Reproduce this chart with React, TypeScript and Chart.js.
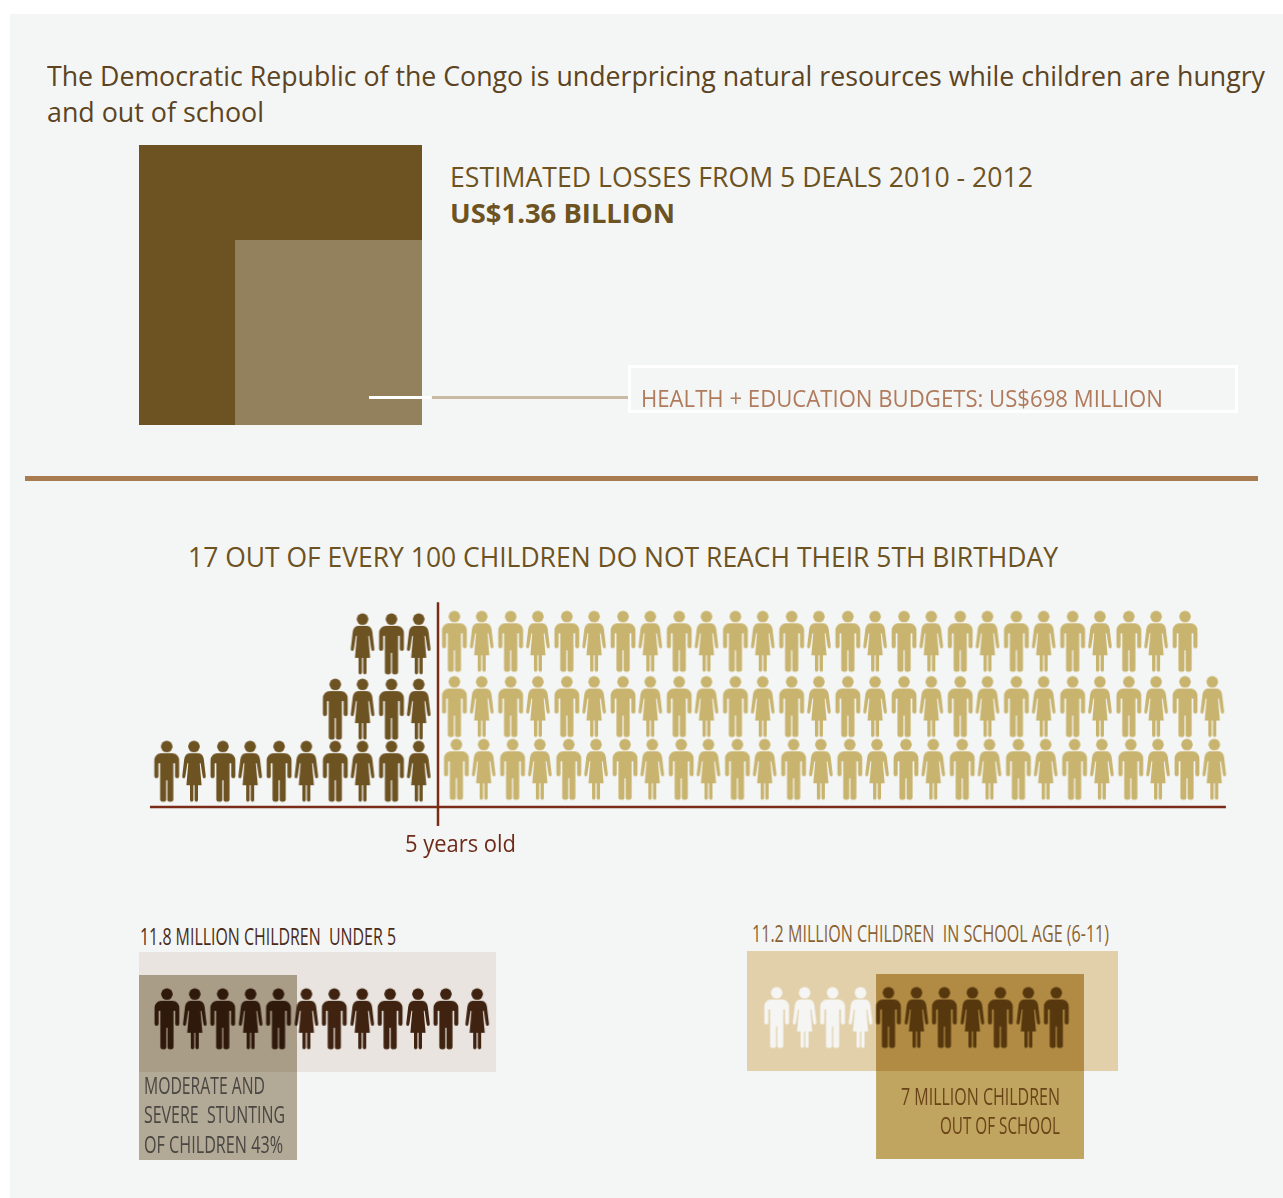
import React, { useEffect, useRef } from "react";
import { Chart, registerables } from "chart.js";

// ---- Chart values ----
const lossesMillions = 1360;
const budgetsMillions = 698;

const diedByRow = [10, 4, 3];
const survivedByRow = [28, 28, 27];

const childrenUnderFiveMillions = 11.8;
const stuntingPercent = 43;
const stuntingFigures = 12;

const schoolAgeMillions = 11.2;
const outOfSchoolMillions = 7;
const schoolAgeAttending = 4;
const schoolAgeOut = 7;

// ---- Palette ----
const PAGE = "#f4f6f5";
const BROWN = "#6d5222";
const SAND = "#c8b46e";
const RULE = "#7a2c18";
const DARK_FIGURE = "#3f2310";
const PALE_FIGURE = "#f5f5f3";
const FONT = '"Open Sans"';

// ---- Person pictograms, pre-rendered for use as point styles ----
type Kind = "man" | "woman";
const glyphCache = new Map<string, HTMLCanvasElement>();

function manHalf(ctx: CanvasRenderingContext2D, s: number) {
  ctx.beginPath();
  ctx.moveTo(0, -18);
  ctx.lineTo(s * 6, -18);
  ctx.quadraticCurveTo(s * 12.4, -17, s * 12.4, -10.5);
  ctx.lineTo(s * 12.4, 5.2);
  ctx.quadraticCurveTo(s * 12.4, 7, s * 10.4, 7);
  ctx.quadraticCurveTo(s * 8.3, 7, s * 8.3, 5.2);
  ctx.lineTo(s * 8.3, -8);
  ctx.lineTo(s * 6.6, -8);
  ctx.lineTo(s * 6.6, 28.5);
  ctx.quadraticCurveTo(s * 6.6, 30.5, s * 4, 30.5);
  ctx.quadraticCurveTo(s * 0.6, 30.5, s * 0.6, 28.5);
  ctx.lineTo(s * 0.6, 9);
  ctx.lineTo(0, 9);
  ctx.closePath();
  ctx.fill();
}

function womanHalf(ctx: CanvasRenderingContext2D, s: number) {
  ctx.beginPath();
  ctx.moveTo(0, -18);
  ctx.lineTo(s * 4.5, -18);
  ctx.quadraticCurveTo(s * 9, -17.5, s * 9.8, -12);
  ctx.lineTo(s * 11.8, 5);
  ctx.quadraticCurveTo(s * 12, 7, s * 10.4, 7.1);
  ctx.quadraticCurveTo(s * 9, 7.2, s * 8.7, 5.5);
  ctx.lineTo(s * 6.6, -8);
  ctx.lineTo(s * 5.7, -8);
  ctx.lineTo(s * 7.6, 14);
  ctx.lineTo(s * 4, 14);
  ctx.lineTo(s * 4, 28.8);
  ctx.quadraticCurveTo(s * 4, 30.5, s * 2.4, 30.5);
  ctx.quadraticCurveTo(s * 0.6, 30.5, s * 0.6, 28.8);
  ctx.lineTo(s * 0.6, 14);
  ctx.lineTo(0, 14);
  ctx.closePath();
  ctx.fill();
}

function glyph(kind: Kind, color: string): HTMLCanvasElement {
  const key = kind + color;
  const cached = glyphCache.get(key);
  if (cached) return cached;
  const canvas = document.createElement("canvas");
  canvas.width = 32;
  canvas.height = 68;
  const ctx = canvas.getContext("2d")!;
  ctx.translate(16, 34);
  ctx.fillStyle = color;
  ctx.beginPath();
  ctx.arc(0, -24.7, 5.8, 0, Math.PI * 2);
  ctx.fill();
  const half = kind === "man" ? manHalf : womanHalf;
  half(ctx, 1);
  half(ctx, -1);
  glyphCache.set(key, canvas);
  return canvas;
}

// ---- Chart.js helpers ----
const multiplyBlend = {
  id: "multiplyBlend",
  beforeDatasetDraw(chart: any, args: any) {
    if (chart.data.datasets[args.index].multiply) {
      chart.ctx.save();
      chart.ctx.globalCompositeOperation = "multiply";
    }
  },
  afterDatasetDraw(chart: any, args: any) {
    if (chart.data.datasets[args.index].multiply) chart.ctx.restore();
  },
};
Chart.register(multiplyBlend, ...registerables);

const pageFill = {
  id: "pageFill",
  beforeDraw(chart: any) {
    chart.ctx.save();
    chart.ctx.fillStyle = PAGE;
    chart.ctx.fillRect(0, 0, chart.width, chart.height);
    chart.ctx.restore();
  },
};

const hiddenAxis = (axis: "x" | "y", min: number, max: number, extra: object = {}) => ({
  axis,
  type: "linear",
  display: false,
  bounds: "data",
  min,
  max,
  ...extra,
});

const baseOptions = (scales: object) => ({
  animation: false as const,
  responsive: false,
  devicePixelRatio: 1,
  events: [] as string[],
  layout: { padding: 0, autoPadding: false },
  plugins: { legend: { display: false }, tooltip: { enabled: false }, title: { display: false } },
  scales,
});

// A filled rectangle: the top edge is a two-point line, filled down to a value on the same axis.
const box = (
  x0: number,
  x1: number,
  y0: number,
  y1: number,
  color: string,
  extra: object = {}
) => ({
  type: "scatter",
  data: [
    { x: x0, y: y0 },
    { x: x1, y: y0 },
  ],
  showLine: true,
  fill: { value: y1 },
  backgroundColor: color,
  borderWidth: 0,
  pointRadius: 0,
  ...extra,
});

const rule = (points: { x: number; y: number }[]) => ({
  type: "scatter",
  data: points,
  showLine: true,
  borderColor: RULE,
  borderWidth: 2.5,
  pointRadius: 0,
  fill: false,
});

const figures = (
  points: { x: number; y: number }[],
  kinds: Kind[],
  colors: string[]
) => ({
  type: "scatter",
  data: points,
  showLine: false,
  pointRadius: 12,
  clip: false,
  pointStyle: kinds.map((k, i) => glyph(k, colors[i])),
});

// ---- Square comparison: logarithmic axes anchored at the bottom-right corner ----
function lossesConfig() {
  const floor = 190.4;
  return {
    type: "scatter",
    data: {
      datasets: [
        box(floor, budgetsMillions, budgetsMillions, floor, "#93805c"),
        box(floor, lossesMillions, lossesMillions, floor, BROWN),
      ],
    },
    options: baseOptions({
      x: hiddenAxis("x", floor, lossesMillions, { type: "logarithmic", reverse: true }),
      y: hiddenAxis("y", floor, lossesMillions, { type: "logarithmic" }),
    }),
  };
}

// ---- 100 children split by the age-five line ----
function mortalityConfig() {
  const leftStart = -0.67;
  const rightStart = 0.64;
  const diedRowLevel = [0, 0.97, 1.99];
  const survivedRowLevel = [0.03, 1.01, 2.03];
  const survivedRowShift = [0, -0.07, -0.07];

  const dPts: { x: number; y: number }[] = [];
  const dKinds: Kind[] = [];
  diedByRow.forEach((count, row) => {
    for (let k = 0; k < count; k++) {
      const kind: Kind = k % 2 === 0 ? "woman" : "man";
      dPts.push({ x: leftStart - k + (kind === "man" ? 0.015 : -0.015), y: diedRowLevel[row] });
      dKinds.push(kind);
    }
  });

  const sPts: { x: number; y: number }[] = [];
  const sKinds: Kind[] = [];
  survivedByRow.forEach((count, row) => {
    for (let k = 0; k < count; k++) {
      const kind: Kind = k % 2 === 0 ? "man" : "woman";
      sPts.push({
        x: rightStart + survivedRowShift[row] + k + (kind === "man" ? 0.015 : -0.015),
        y: survivedRowLevel[row],
      });
      sKinds.push(kind);
    }
  });

  return {
    type: "scatter",
    data: {
      datasets: [
        figures(dPts, dKinds, dKinds.map(() => BROWN)),
        figures(sPts, sKinds, sKinds.map(() => SAND)),
        rule([
          { x: -10.25, y: -0.56 },
          { x: 28.04, y: -0.56 },
        ]),
        rule([
          { x: 0, y: -0.856 },
          { x: 0, y: 2.64 },
        ]),
      ],
    },
    options: baseOptions({
      x: hiddenAxis("x", -10.605, 28.399),
      y: hiddenAxis("y", -0.919, 2.675),
    }),
  };
}

// ---- Stunting among under-fives ----
function stuntingConfig() {
  const pts: { x: number; y: number }[] = [];
  const kinds: Kind[] = [];
  for (let k = 1; k <= stuntingFigures; k++) {
    const kind: Kind = k % 2 === 1 ? "man" : "woman";
    pts.push({ x: k + (k === stuntingFigures ? 0.12 : 0), y: 66.8 });
    kinds.push(kind);
  }
  const share = (stuntingPercent / 100) * childrenUnderFiveMillions;
  const axisStart = -0.267;
  return {
    type: "scatter",
    data: {
      datasets: [
        box(axisStart, share, 23, 208, "#bab09c", { xAxisID: "millions", multiply: true }),
        figures(pts, kinds, kinds.map(() => DARK_FIGURE)),
        box(axisStart, childrenUnderFiveMillions, 0, 120, "#e9e4df", { xAxisID: "millions" }),
      ],
    },
    options: baseOptions({
      x: hiddenAxis("x", 0, 12.796),
      millions: hiddenAxis("x", axisStart, childrenUnderFiveMillions),
      y: hiddenAxis("y", 0, 208, { reverse: true }),
    }),
    plugins: [pageFill],
  };
}

// ---- School-age children out of school ----
function schoolConfig() {
  const pts: { x: number; y: number }[] = [];
  const kinds: Kind[] = [];
  const colors: string[] = [];
  const total = schoolAgeAttending + schoolAgeOut;
  for (let k = 1; k <= total; k++) {
    pts.push({ x: k, y: 66.5 });
    kinds.push(k % 2 === 1 ? "man" : "woman");
    colors.push(k <= schoolAgeAttending ? PALE_FIGURE : BROWN);
  }
  const outStart = 3.7;
  return {
    type: "scatter",
    data: {
      datasets: [
        box(outStart, outStart + outOfSchoolMillions, 23, 208, "#c8ab64", {
          xAxisID: "millions",
          multiply: true,
        }),
        figures(pts, kinds, colors),
        box(-0.645, schoolAgeMillions + 0.645, 0, 120, "#e2d0aa", { xAxisID: "millions" }),
      ],
    },
    options: baseOptions({
      x: hiddenAxis("x", -0.06, 13.207),
      millions: hiddenAxis("x", -0.645, schoolAgeMillions + 0.645),
      y: hiddenAxis("y", 0, 208, { reverse: true }),
    }),
    plugins: [pageFill],
  };
}

// ---- Text, set on a baseline and fitted to a width ----
const measureCtx = document.createElement("canvas").getContext("2d")!;

function Label(props: {
  text: string;
  x: number;
  base: number;
  width: number;
  size: number;
  color: string;
  weight?: number;
}) {
  const { text, x, base, width, size, color, weight = 400 } = props;
  const font = `${weight} ${size}px ${FONT}`;
  measureCtx.font = font;
  const m = measureCtx.measureText(text);
  const sx = width / m.width;
  const top = base - (m.fontBoundingBoxAscent - m.fontBoundingBoxDescent) / 2;
  return (
    <span
      style={{
        position: "absolute",
        left: x,
        top,
        font,
        lineHeight: 0,
        color,
        whiteSpace: "pre",
        transform: `scaleX(${sx})`,
        transformOrigin: "0 0",
      }}
    >
      {text}
    </span>
  );
}

function ChartCanvas(props: { x: number; y: number; w: number; h: number; make: () => any }) {
  const ref = useRef<HTMLCanvasElement>(null);
  useEffect(() => {
    const chart = new Chart(ref.current!, props.make());
    return () => chart.destroy();
  }, []);
  return (
    <canvas
      ref={ref}
      width={props.w}
      height={props.h}
      style={{ position: "absolute", left: props.x, top: props.y, width: props.w, height: props.h }}
    />
  );
}

const block = (x: number, y: number, w: number, h: number, background: string) => (
  <div style={{ position: "absolute", left: x, top: y, width: w, height: h, background }} />
);

export default function App() {
  return (
    <div
      style={{
        position: "absolute",
        left: 0,
        top: 0,
        width: 1283,
        height: 1198,
        overflow: "hidden",
        background: "#ffffff",
      }}
    >
      {block(10, 14, 1273, 1184, PAGE)}

      <Label
        text="The Democratic Republic of the Congo is underpricing natural resources while children are hungry"
        x={47}
        base={86}
        width={1218}
        size={28}
        color="#5c4423"
      />
      <Label text="and out of school" x={47} base={122} width={217} size={28} color="#5c4423" />

      <ChartCanvas x={139} y={145} w={283} h={280} make={lossesConfig} />

      <Label
        text="ESTIMATED LOSSES FROM 5 DEALS 2010 - 2012"
        x={450}
        base={187}
        width={583}
        size={27}
        color={BROWN}
      />
      <Label text="US$1.36 BILLION" x={450} base={223} width={225} size={27} color={BROWN} weight={700} />

      {block(369, 396, 62, 2.5, "#ffffff")}
      {block(432, 396, 198, 3, "#c9bba3")}
      <div
        style={{
          position: "absolute",
          left: 629,
          top: 366,
          width: 604,
          height: 42,
          border: "2.5px solid #ffffff",
          boxSizing: "content-box",
          outline: "0.5px solid #ffffff",
        }}
      />
      <Label
        text="HEALTH + EDUCATION BUDGETS: US$698 MILLION"
        x={641}
        base={407}
        width={522}
        size={24}
        color="#b07a5c"
      />

      {block(25, 476, 1233, 5, "#a87c50")}

      <Label
        text="17 OUT OF EVERY 100 CHILDREN DO NOT REACH THEIR 5TH BIRTHDAY"
        x={188}
        base={567}
        width={870}
        size={27}
        color={BROWN}
      />

      <ChartCanvas x={140} y={600} w={1096} h={230} make={mortalityConfig} />

      <Label text="5 years old" x={405} base={852} width={111} size={24} color="#6e2b1a" />

      <Label
        text="11.8 MILLION CHILDREN  UNDER 5"
        x={140}
        base={945}
        width={256}
        size={23}
        color="#4a2a18"
        weight={500}
      />
      <ChartCanvas x={139} y={952} w={357} h={208} make={stuntingConfig} />
      <Label text="MODERATE AND" x={144} base={1094} width={121} size={23} color="#4a4642" weight={500} />
      <Label text="SEVERE  STUNTING" x={144} base={1123} width={141} size={23} color="#4a4642" weight={500} />
      <Label text="OF CHILDREN 43%" x={144} base={1153} width={139} size={23} color="#4a4642" weight={500} />

      <Label
        text="11.2 MILLION CHILDREN  IN SCHOOL AGE (6-11)"
        x={752}
        base={942}
        width={357}
        size={23}
        color="#8a6232"
        weight={500}
      />
      <ChartCanvas x={747} y={951} w={371} h={208} make={schoolConfig} />
      <Label text="7 MILLION CHILDREN" x={901} base={1105} width={159} size={23} color="#6b4318" weight={500} />
      <Label text="OUT OF SCHOOL" x={940} base={1134} width={120} size={23} color="#6b4318" weight={500} />
    </div>
  );
}
